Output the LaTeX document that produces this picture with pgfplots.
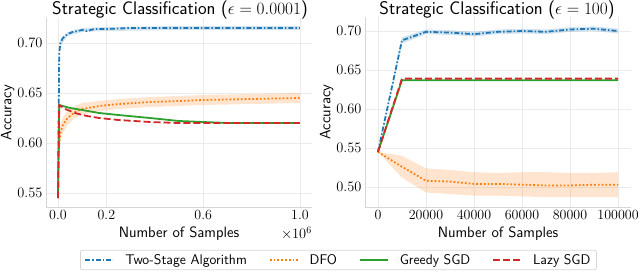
\documentclass[border=0pt]{standalone}
\usepackage{pgfplots}
\usepackage{pgfplotstable}
\pgfplotsset{compat=1.18}
\definecolor{tabblue}{HTML}{1F77B4}
\definecolor{taborange}{HTML}{FF7F0E}
\definecolor{tabgreen}{HTML}{2CA02C}
\definecolor{tabred}{HTML}{D62728}
\definecolor{gridc}{HTML}{EBEBEB}
\definecolor{spinec}{HTML}{D6D6D6}

% Left panel (x in units of 10^6 samples)
\pgfplotstableread{
x y
0 0.545
0.005 0.690
0.01 0.700
0.02 0.705
0.04 0.709
0.06 0.711
0.08 0.712
0.10 0.713
0.12 0.712
0.15 0.714
0.20 0.714
0.30 0.715
0.40 0.715
0.50 0.715
0.60 0.715
0.70 0.715
0.80 0.715
0.90 0.715
1.00 0.715
}\LtwoStage
% band polygon: upper bound forward, lower bound backward
\pgfplotstableread{
x y
0 0.545
0.005 0.693
0.01 0.703
0.04 0.711
0.10 0.715
0.20 0.716
0.50 0.717
1.00 0.717
1.00 0.713
0.50 0.713
0.20 0.712
0.10 0.711
0.04 0.707
0.01 0.697
0.005 0.687
0 0.545
}\LtwoStageBand
\pgfplotstableread{
x y
0 0.545
0.002 0.585
0.005 0.600
0.01 0.610
0.02 0.618
0.04 0.625
0.07 0.631
0.10 0.634
0.17 0.637
0.25 0.639
0.38 0.641
0.50 0.642
0.60 0.643
0.80 0.644
1.00 0.645
}\Ldfo
\pgfplotstableread{
x y
0 0.545
0.002 0.592
0.005 0.608
0.01 0.618
0.02 0.626
0.04 0.632
0.07 0.637
0.10 0.640
0.17 0.642
0.25 0.644
0.38 0.646
0.50 0.647
0.60 0.648
0.80 0.649
1.00 0.650
1.00 0.640
0.80 0.639
0.60 0.638
0.50 0.637
0.38 0.636
0.25 0.634
0.17 0.632
0.10 0.628
0.07 0.625
0.04 0.618
0.02 0.610
0.01 0.602
0.005 0.592
0.002 0.578
0 0.545
}\LdfoBand
\pgfplotstableread{
x y
0 0.545
0.005 0.638
0.05 0.635
0.10 0.633
0.17 0.630
0.25 0.628
0.38 0.625
0.50 0.622
0.60 0.621
0.70 0.620
1.00 0.620
}\Lgreedy
\pgfplotstableread{
x y
0 0.545
0.005 0.638
0.03 0.634
0.07 0.630
0.12 0.627
0.17 0.625
0.25 0.623
0.38 0.621
0.50 0.620
1.00 0.620
}\Llazy

% Right panel
\pgfplotstableread{
x y
0 0.545
10000 0.688
20000 0.699
30000 0.698
40000 0.696
50000 0.699
60000 0.700
70000 0.699
80000 0.702
90000 0.703
100000 0.700
}\RtwoStage
\pgfplotstableread{
x y
0 0.545
10000 0.692
20000 0.702
30000 0.701
40000 0.699
50000 0.702
60000 0.703
70000 0.702
80000 0.705
90000 0.706
100000 0.703
100000 0.697
90000 0.700
80000 0.699
70000 0.696
60000 0.697
50000 0.696
40000 0.693
30000 0.695
20000 0.696
10000 0.684
0 0.545
}\RtwoStageBand
\pgfplotstableread{
x y
0 0.545
10000 0.526
20000 0.508
30000 0.507
40000 0.504
50000 0.504
60000 0.503
70000 0.502
80000 0.502
90000 0.503
100000 0.503
}\Rdfo
\pgfplotstableread{
x y
0 0.545
10000 0.540
20000 0.524
30000 0.522
40000 0.519
50000 0.518
60000 0.519
70000 0.519
80000 0.518
90000 0.518
100000 0.519
100000 0.487
90000 0.487
80000 0.487
70000 0.487
60000 0.488
50000 0.489
40000 0.489
30000 0.491
20000 0.493
10000 0.512
0 0.545
}\RdfoBand
\pgfplotstableread{
x y
0 0.545
10000 0.637
20000 0.637
30000 0.637
40000 0.637
50000 0.637
60000 0.637
70000 0.637
80000 0.637
90000 0.637
100000 0.637
}\Rgreedy
\pgfplotstableread{
x y
0 0.545
10000 0.639
20000 0.639
30000 0.639
40000 0.639
50000 0.639
60000 0.639
70000 0.639
80000 0.639
90000 0.639
100000 0.639
}\Rlazy

\newcommand{\labfont}{\sffamily\fontsize{15}{17}\selectfont}
\newcommand{\titfont}{\sffamily\fontsize{18.3}{20}\selectfont}

\pgfplotsset{
  panel/.style={
    scale only axis,
    width=266pt,
    axis x line*=bottom, axis y line*=left,
    axis line style={draw=spinec, line width=0.8pt},
    grid=major,
    major grid style={draw=gridc, line width=0.8pt},
    major tick length=0pt,
    tick label style={font=\fontsize{14}{16}\selectfont},
    label style={font=\labfont},
    ylabel style={yshift=-4pt},
    xlabel={Number of Samples},
    ylabel={Accuracy},
    scaled x ticks=false, scaled y ticks=false,
    yticklabel style={/pgf/number format/fixed, /pgf/number format/precision=2, /pgf/number format/fixed zerofill},
    legend image code/.code={\draw[##1, mark=none] (0pt,0pt) -- (28pt,0pt);},
  },
  twostage/.style={tabblue, line width=1.8pt, dash pattern=on 5pt off 2pt on 1.5pt off 2pt},
  dfo/.style={taborange, line width=1.8pt, dash pattern=on 1.8pt off 2pt},
  greedy/.style={tabgreen, line width=1.8pt},
  lazy/.style={tabred, line width=1.8pt, dash pattern=on 7pt off 3pt},
  band/.style={draw=none, fill=#1, fill opacity=0.2, forget plot},
}

\begin{document}
\begin{tikzpicture}
\path[use as bounding box] (-46pt,-67pt) rectangle (594pt,207pt);
\begin{axis}[panel,
  name=left,
  height=189pt,
  at={(0pt,0pt)}, anchor=south west,
  xmin=-0.0496, xmax=1.0496,
  ymin=0.536, ymax=0.725,
  xtick={0,0.2,0.6,1.0},
  xticklabels={0.0,0.2,0.6,1.0},
  ytick={0.55,0.60,0.65,0.70},
  legend columns=4,
  legend style={at={(rel axis cs:1.0996,-0.2804)}, anchor=center,
    draw=spinec, line width=0.8pt, rounded corners=2pt,
    font=\sffamily\fontsize{14}{16}\selectfont,
    inner xsep=4pt, inner ysep=2pt,
    /tikz/every odd column/.append style={column sep=9pt},
    /tikz/every even column/.append style={column sep=20pt}},
]
\addplot[band=tabblue] table[x=x, y=y] {\LtwoStageBand} -- cycle;
\addplot[band=taborange] table[x=x, y=y] {\LdfoBand} -- cycle;
\addplot[twostage] table[x=x, y=y] {\LtwoStage};
\addlegendentry{Two-Stage Algorithm}
\addplot[dfo] table[x=x, y=y] {\Ldfo};
\addlegendentry{DFO}
\addplot[greedy] table[x=x, y=y] {\Lgreedy};
\addlegendentry{Greedy SGD}
\addplot[lazy] table[x=x, y=y] {\Llazy};
\addlegendentry{Lazy SGD}
\end{axis}
\node[anchor=north east, inner sep=0pt, font=\fontsize{14}{16}\selectfont] at ([yshift=-20pt]left.south east) {$\times 10^{6}$};
\node[anchor=base, inner sep=0pt, font=\titfont] at ([yshift=3.5pt,xshift=1pt]left.north) {Strategic Classification ($\epsilon = 0.0001$)};

\begin{axis}[panel,
  name=right,
  height=190pt,
  at={(319pt,0pt)}, anchor=south west,
  xmin=-5394, xmax=105394,
  ymin=0.4744, ymax=0.718,
  xtick={0,20000,40000,60000,80000,100000},
  xticklabels={0,20000,40000,60000,80000,100000},
  ytick={0.50,0.55,0.60,0.65,0.70},
]
\addplot[band=tabblue] table[x=x, y=y] {\RtwoStageBand} -- cycle;
\addplot[band=taborange] table[x=x, y=y] {\RdfoBand} -- cycle;
\addplot[twostage] table[x=x, y=y] {\RtwoStage};
\addplot[dfo] table[x=x, y=y] {\Rdfo};
\addplot[greedy] table[x=x, y=y] {\Rgreedy};
\addplot[lazy] table[x=x, y=y] {\Rlazy};
\end{axis}
\node[anchor=base, inner sep=0pt, font=\titfont] at ([yshift=2.5pt,xshift=-1pt]right.north) {Strategic Classification ($\epsilon = 100$)};
\end{tikzpicture}
\end{document}
